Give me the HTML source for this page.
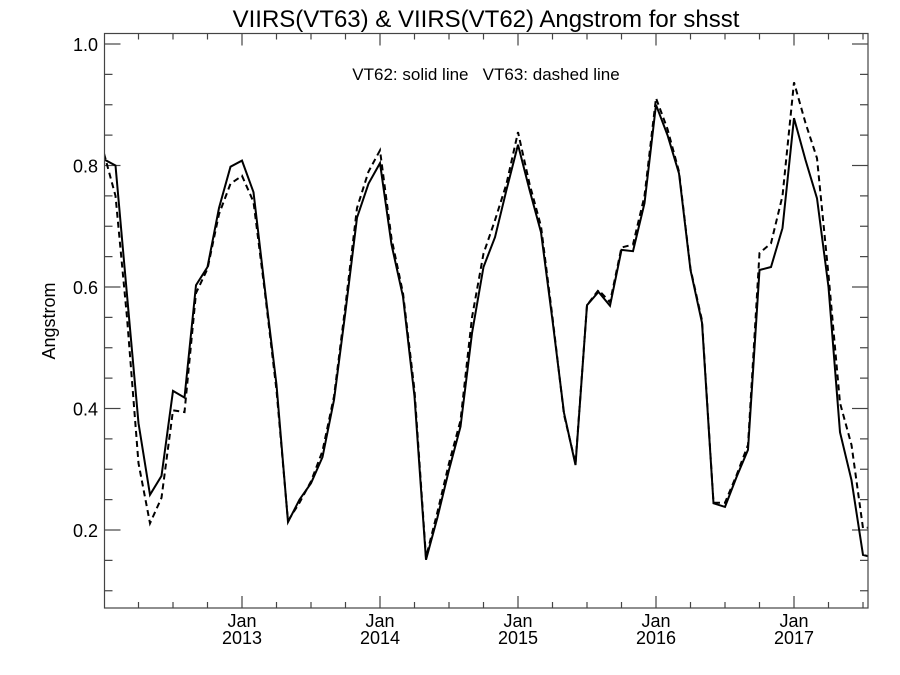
<!DOCTYPE html>
<html><head><meta charset="utf-8"><style>
html,body{margin:0;padding:0;background:#fff;}
svg{display:block;font-family:"Liberation Sans",sans-serif;}
</style></head><body>
<svg id="chart" width="900" height="675" viewBox="0 0 900 675" xmlns="http://www.w3.org/2000/svg">
<rect width="900" height="675" fill="#fff"/>
<text x="486" y="27" font-size="24" text-anchor="middle" fill="#000">VIIRS(VT63) &amp; VIIRS(VT62)  Angstrom for shsst</text>
<text x="486" y="80" font-size="17" text-anchor="middle" fill="#000" xml:space="preserve">VT62: solid line   VT63: dashed line</text>
<text x="0" y="0" font-size="18" text-anchor="middle" fill="#000" transform="translate(55,321) rotate(-90)">Angstrom</text>
<g id="ticks"></g>
<g id="series"></g>
<rect x="104.5" y="33.5" width="763.5" height="574.5" fill="none" stroke="#444" stroke-width="1.2"/>
</svg>
<script>
const vt62 = [0.81,0.80,0.587,0.376,0.258,0.289,0.429,0.418,0.603,0.633,0.730,0.798,
0.808,0.756,0.595,0.439,0.213,0.25,0.277,0.32,0.414,0.56,0.714,0.77,
0.804,0.67,0.584,0.42,0.151,0.221,0.299,0.37,0.524,0.633,0.682,0.76,
0.834,0.76,0.69,0.545,0.393,0.307,0.57,0.592,0.569,0.661,0.659,0.738,
0.90,0.85,0.787,0.628,0.541,0.244,0.238,0.287,0.332,0.628,0.633,0.697,
0.878,0.809,0.746,0.60,0.361,0.282,0.159,0.154];
const vt63 = [0.82,0.75,0.55,0.31,0.211,0.253,0.397,0.394,0.59,0.63,0.72,0.77,
0.783,0.74,0.59,0.43,0.215,0.245,0.28,0.33,0.42,0.57,0.73,0.79,
0.825,0.68,0.59,0.43,0.155,0.23,0.31,0.38,0.55,0.655,0.71,0.77,
0.855,0.77,0.70,0.55,0.39,0.31,0.57,0.595,0.575,0.665,0.67,0.75,
0.911,0.86,0.79,0.63,0.545,0.245,0.245,0.29,0.34,0.656,0.672,0.75,
0.937,0.87,0.812,0.62,0.409,0.34,0.203,0.205];
const yTickLabels = ["0.2","0.4","0.6","0.8","1.0"];
const yTickValues = [0.2,0.4,0.6,0.8,1.0];
const xYearLabels = ["2013","2014","2015","2016","2017"];
const xYearMonthIndex = [12,24,36,48,60];

const L=104.5,R=868,T=33.5,B=608;
function xs(i){return 104 + i*11.5;}
function ys(v){return 530 - (v-0.2)*607.5;}
const NS="http://www.w3.org/2000/svg";
function mk(tag,attrs,parent){const e=document.createElementNS(NS,tag);for(const k in attrs)e.setAttribute(k,attrs[k]);parent.appendChild(e);return e;}
const tg=document.getElementById('ticks');
// y ticks major + minor
for(let v=0.1;v<=1.0001;v+=0.05){
  const y=ys(v); if(y<T||y>B) continue;
  const major=Math.abs(Math.round(v*10)-v*10)<1e-6 && Math.round(v*10)%2===0;
  const len=major?16:8;
  const a=mk('line',{x1:L,x2:L+len,y1:y,y2:y,stroke:'#444','stroke-width':1.2},tg);
  
  
  const b=mk('line',{x1:R,x2:R-len,y1:y,y2:y,stroke:'#444','stroke-width':1.2},tg);
  
  
}
yTickValues.forEach((v,k)=>{
  const t=mk('text',{x:98,y:ys(v)+7,'font-size':18,'text-anchor':'end',fill:'#000'},tg);
  
  
  t.textContent=yTickLabels[k];
});
// x ticks every 3 months
for(let i=0;i<=66;i+=3){
  const x=xs(i); if(x<=L+1||x>=R-1) continue;
  const major=(i%12===0);
  const len=major?12:6;
  const a=mk('line',{x1:x,x2:x,y1:B,y2:B-len,stroke:'#444','stroke-width':1.2},tg);
  
  
  const b=mk('line',{x1:x,x2:x,y1:T,y2:T+len,stroke:'#444','stroke-width':1.2},tg);
  
  
}
xYearMonthIndex.forEach((m,k)=>{
  const x=xs(m);
  const t1=mk('text',{x:x,y:627,'font-size':18,'text-anchor':'middle',fill:'#000'},tg);
  
  
  t1.textContent='Jan';
  const t2=mk('text',{x:x,y:644,'font-size':18,'text-anchor':'middle',fill:'#000'},tg);
  
  
  t2.textContent=xYearLabels[k];
});
// series
const sg=document.getElementById('series');
mk('clipPath',{id:'clip'},sg).appendChild(Object.assign(document.createElementNS(NS,'rect'),{}));
const cr=sg.querySelector('clipPath rect');
cr.setAttribute('x',L);cr.setAttribute('y',T);cr.setAttribute('width',R-L);cr.setAttribute('height',B-T);
function path(arr){return arr.map((v,i)=>(i?'L':'M')+xs(i).toFixed(1)+','+ys(v).toFixed(1)).join(' ');}
const p2=mk('path',{d:path(vt63),fill:'none',stroke:'#000','stroke-width':2,'stroke-dasharray':'6,4','clip-path':'url(#clip)'},sg);


const p1=mk('path',{d:path(vt62),fill:'none',stroke:'#000','stroke-width':2,'clip-path':'url(#clip)'},sg);


</script>
</body></html>
